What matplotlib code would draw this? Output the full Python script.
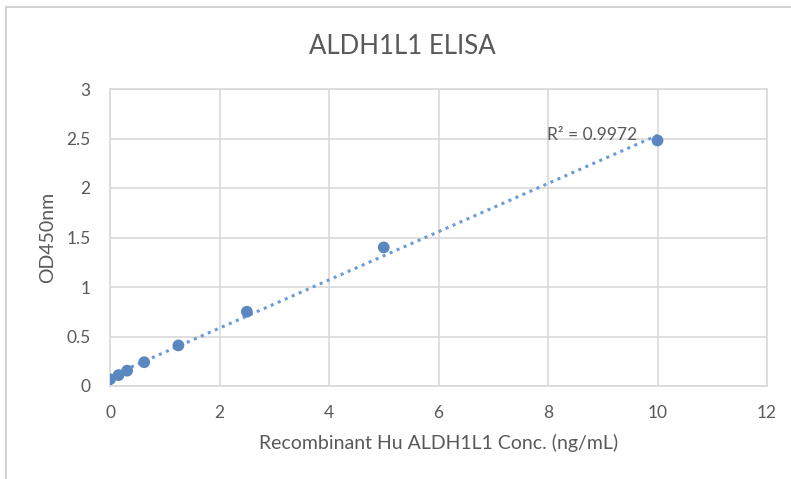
import matplotlib.pyplot as plt
from matplotlib.patches import Rectangle
import numpy as np

conc = [0, 0.156, 0.3125, 0.625, 1.25, 2.5, 5, 10]
od450 = [0.068, 0.11, 0.155, 0.24, 0.41, 0.75, 1.40, 2.48]
r2_text = "R² = 0.9972"

plt.rcParams['font.family'] = ['Lato', 'DejaVu Sans']
grey = '#595959'
gridc = '#d9d9d9'
blue = '#5b87c0'

fig = plt.figure(figsize=(7.91, 4.79), dpi=100)
fig.patches.append(Rectangle((6 / 791, -0.1), 1.2, 1 - 7 / 479 + 0.1,
                             transform=fig.transFigure, fill=False,
                             edgecolor='#c8c8c8', linewidth=1.2))
ax = fig.add_axes([110 / 791, 1 - 386 / 479, (767 - 110) / 791, (386 - 89) / 479])

# linear trendline
slope, intercept = np.polyfit(conc, od450, 1)
xs = np.array([min(conc), max(conc)])
ax.plot(xs, slope * xs + intercept, linestyle=(0, (1, 1.5)), color='#6a9bd8',
        linewidth=2.2, zorder=2)
ax.scatter(conc, od450, s=72, color=blue, zorder=3, edgecolors='none')

ax.set_xlim(0, 12)
ax.set_ylim(0, 3)
ax.set_xticks(range(0, 13, 2))
ax.set_yticks([0, 0.5, 1, 1.5, 2, 2.5, 3])
ax.set_yticklabels(['0', '0.5', '1', '1.5', '2', '2.5', '3'])
ax.grid(True, color=gridc, linewidth=1.2)
ax.set_axisbelow(True)
for s in ax.spines.values():
    s.set_color(gridc)
    s.set_linewidth(1.2)
ax.tick_params(length=0, colors=grey, labelsize=12.5)
ax.tick_params(axis='x', pad=14)
ax.tick_params(axis='y', pad=14)

ax.set_xlabel('Recombinant Hu ALDH1L1 Conc. (ng/mL)', color=grey, fontsize=14, labelpad=9)
ax.set_ylabel('OD450nm', color=grey, fontsize=14, labelpad=7)
fig.text(402 / 791, 1 - 47 / 479, 'ALDH1L1 ELISA', color=grey, fontsize=18.5,
         ha='center', va='center')
ax.text(9.63, 2.535, r2_text, color=grey, fontsize=12.5, ha='right', va='center')

fig.savefig('out.png', dpi=100)
